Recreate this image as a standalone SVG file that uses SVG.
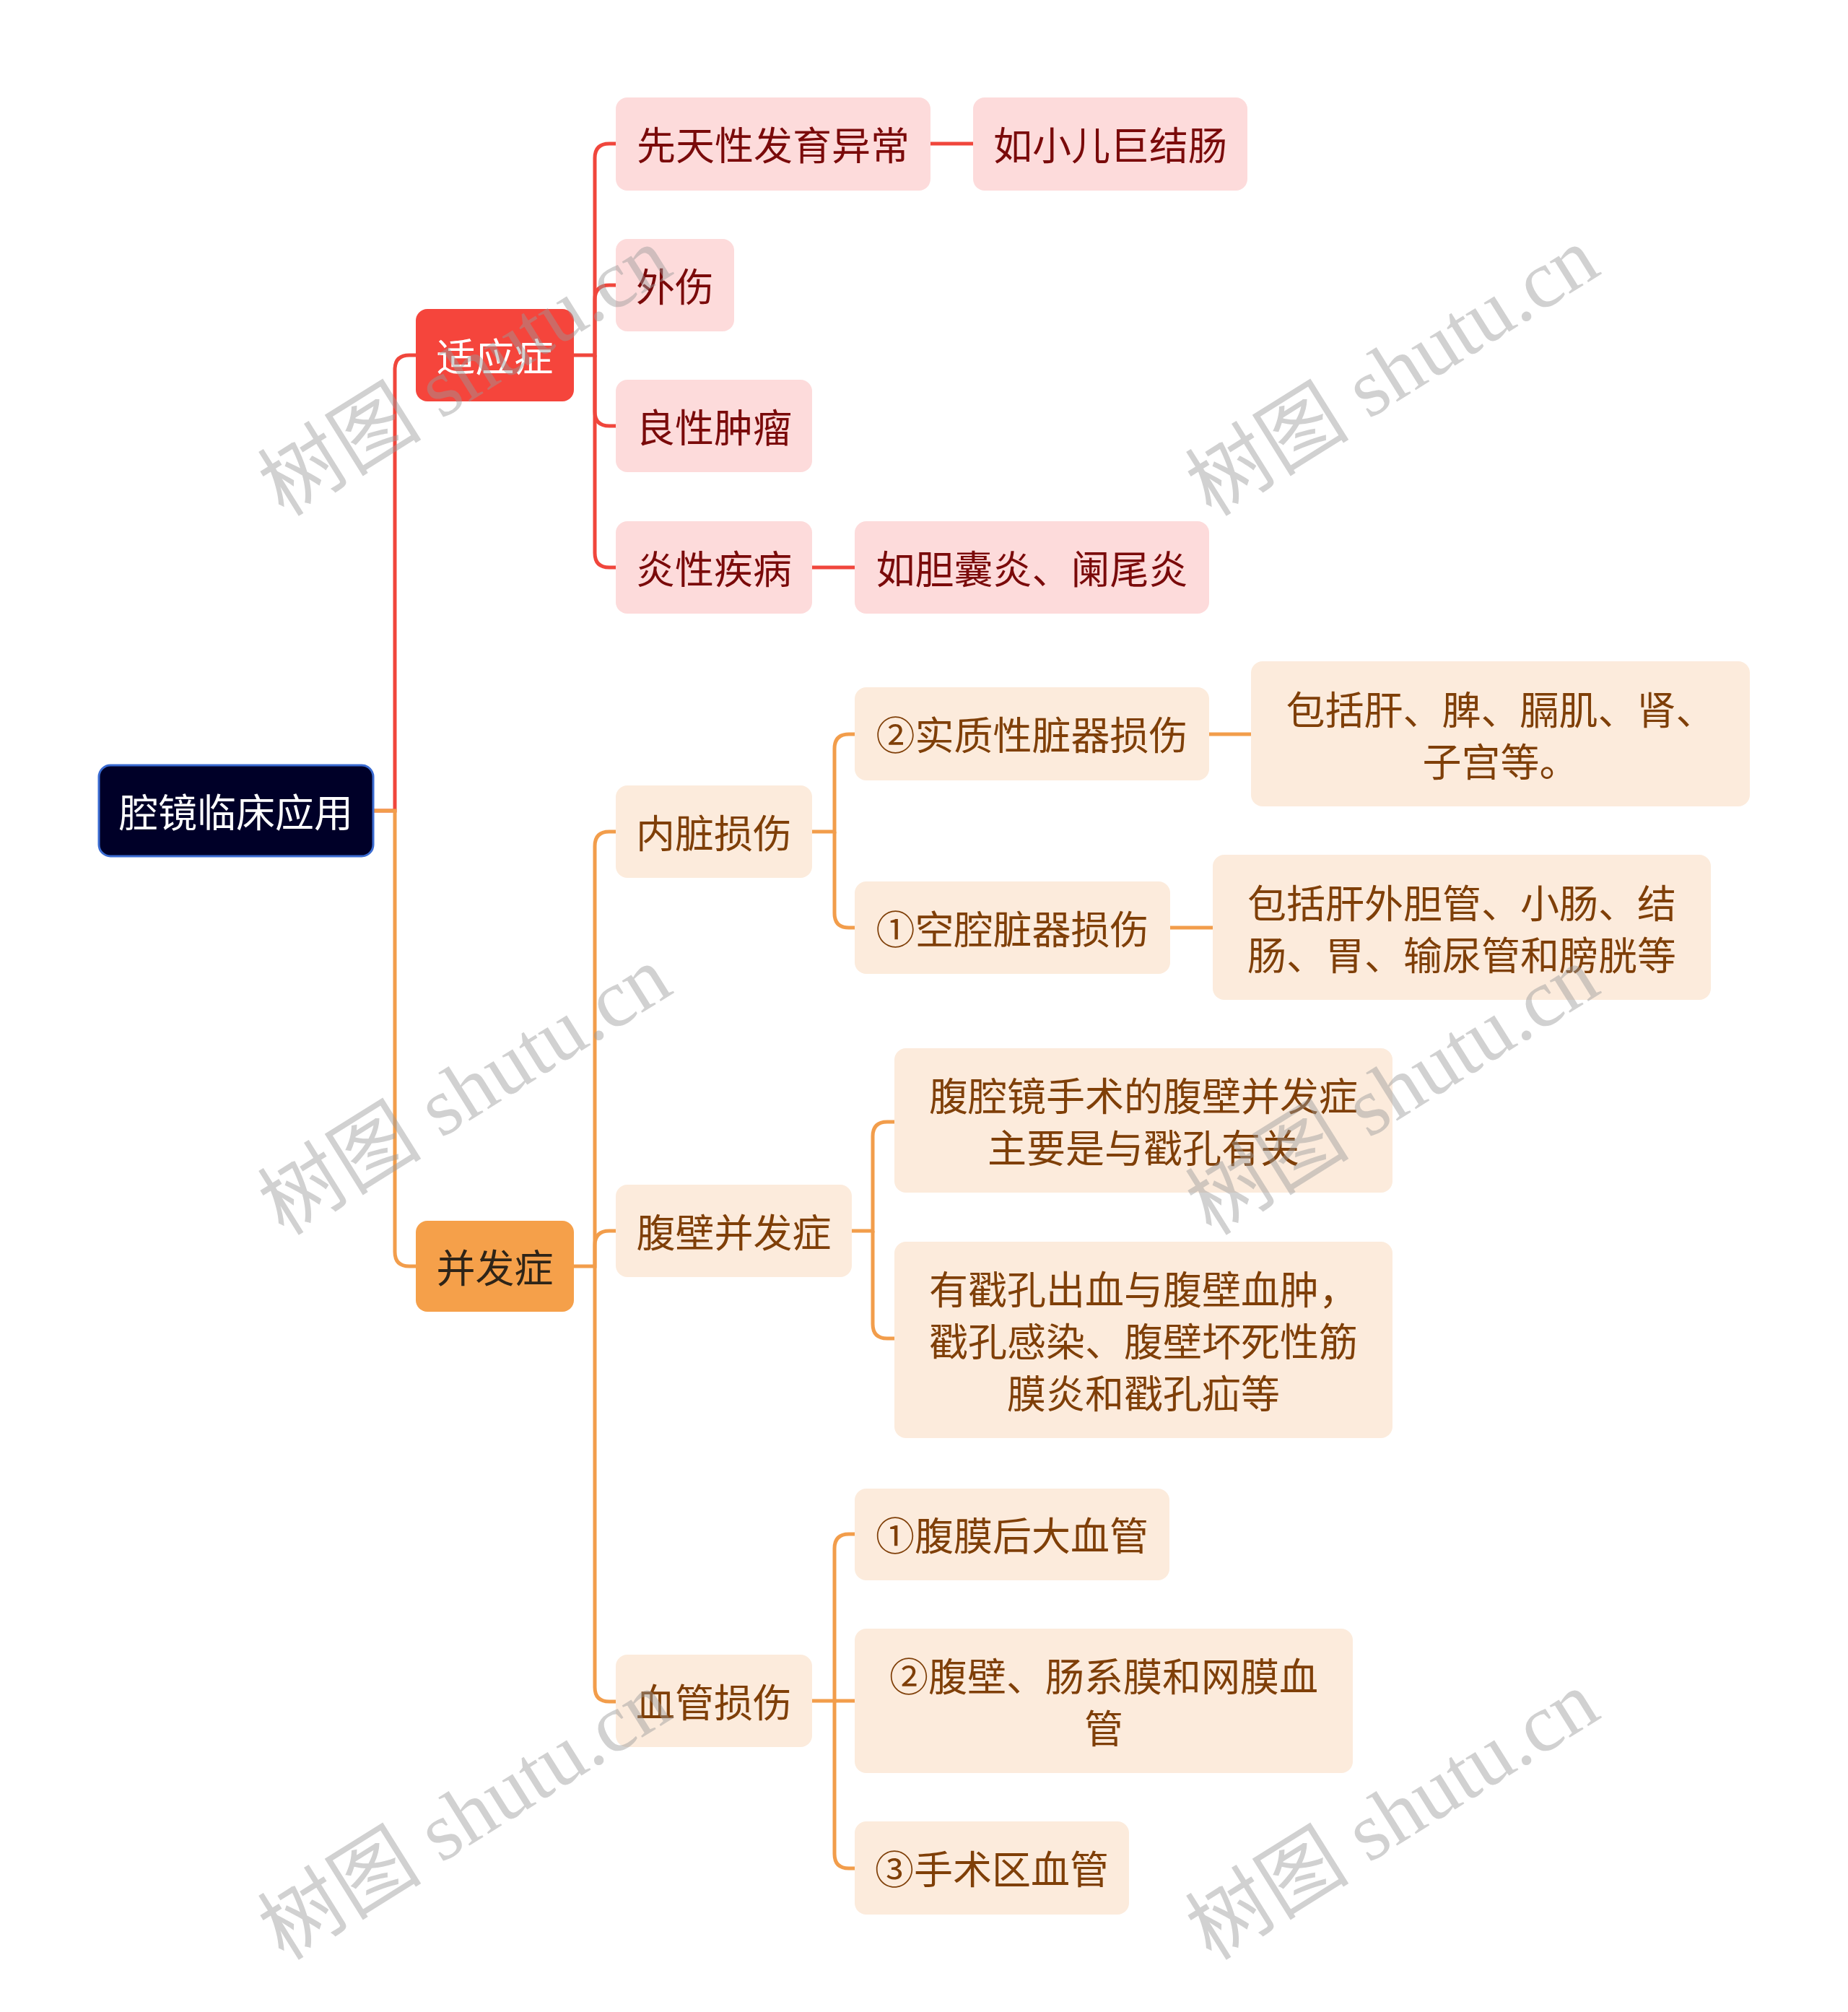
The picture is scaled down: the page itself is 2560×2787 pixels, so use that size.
<svg xmlns="http://www.w3.org/2000/svg" width="2560" height="2787" viewBox="0 0 2560 2787">
<style>
.root rect{fill:#000028;stroke:#3A6BD1;stroke-width:3}
.syz rect{fill:#F5453C}
.bfz rect{fill:#F5A04A}
.pk rect{fill:#FDDBDB}
.og rect{fill:#FCEBDC}
text{font-family:"Noto Sans CJK SC","Noto Sans",sans-serif;font-size:54px;text-anchor:middle;dominant-baseline:central}
.root text,.syz text{fill:#FFFFFF}
.bfz text{fill:#2E2418}
.pk text{fill:#7A0A0A}
.og text{fill:#7F3F08}
.red path{fill:none;stroke:#F0463C;stroke-width:5}
.ora path{fill:none;stroke:#F29D4B;stroke-width:5}
.wm text{font-family:"Liberation Serif","Noto Sans CJK SC",serif;font-size:114px;fill:#9a9a9a;opacity:0.45}
</style>
<rect width="2560" height="2787" fill="#FFFFFF"/>
<g id="connectors">
<g class="red">
<path d="M517,1123 H547 V512 Q547,492 567,492 H576"/>
<path d="M795,492 H824 V219 Q824,199 844,199 H853"/>
<path d="M824,492 V415 Q824,395 844,395 H853"/>
<path d="M824,492 V570 Q824,590 844,590 H853"/>
<path d="M824,492 V766 Q824,786 844,786 H853"/>
<path d="M1289,199 H1348"/>
<path d="M1125,786 H1184"/>
</g>
<g class="ora">
<path d="M517,1123 H547 V1734 Q547,1754 567,1754 H576"/>
<path d="M795,1754 H824 V1172 Q824,1152 844,1152 H853"/>
<path d="M824,1754 V1725 Q824,1705 844,1705 H853"/>
<path d="M824,1754 V2337 Q824,2357 844,2357 H853"/>
<path d="M1125,1152 H1156 V1037 Q1156,1017 1176,1017 H1184"/>
<path d="M1156,1152 V1265 Q1156,1285 1176,1285 H1184"/>
<path d="M1675,1017 H1733"/>
<path d="M1621,1285 H1680"/>
<path d="M1180,1705 H1209 V1574 Q1209,1554 1229,1554 H1239"/>
<path d="M1209,1705 V1834 Q1209,1854 1229,1854 H1239"/>
<path d="M1125,2356 H1156 V2145 Q1156,2125 1176,2125 H1184"/>
<path d="M1156,2356 H1184"/>
<path d="M1156,2356 V2568 Q1156,2588 1176,2588 H1184"/>
</g>
</g>
<g id="n-root" class="root"><rect x="137" y="1060" width="380" height="126" rx="16"/><text x="327" y="1122">腔镜临床应用</text></g>
<g id="n-syz" class="syz"><rect x="576" y="428" width="219" height="128" rx="16"/><text x="685.5" y="491">适应症</text></g>
<g id="n-bfz" class="bfz"><rect x="576" y="1691" width="219" height="126" rx="16"/><text x="685.5" y="1753">并发症</text></g>
<g id="n-xtx" class="pk"><rect x="853" y="135" width="436" height="129" rx="16"/><text x="1071" y="198.5">先天性发育异常</text></g>
<g id="n-rxe" class="pk"><rect x="1348" y="135" width="380" height="129" rx="16"/><text x="1538" y="198.5">如小儿巨结肠</text></g>
<g id="n-ws" class="pk"><rect x="853" y="331" width="164" height="128" rx="16"/><text x="935" y="394">外伤</text></g>
<g id="n-lx" class="pk"><rect x="853" y="526" width="272" height="128" rx="16"/><text x="989" y="589">良性肿瘤</text></g>
<g id="n-yx" class="pk"><rect x="853" y="722" width="272" height="128" rx="16"/><text x="989" y="785">炎性疾病</text></g>
<g id="n-rdn" class="pk"><rect x="1184" y="722" width="491" height="128" rx="16"/><text x="1429.5" y="785">如胆囊炎、阑尾炎</text></g>
<g id="n-nz" class="og"><rect x="853" y="1088" width="272" height="128" rx="16"/><text x="989" y="1151">内脏损伤</text></g>
<g id="n-fb" class="og"><rect x="853" y="1641" width="327" height="128" rx="16"/><text x="1016.5" y="1704">腹壁并发症</text></g>
<g id="n-xg" class="og"><rect x="853" y="2292" width="272" height="128" rx="16"/><text x="989" y="2355">血管损伤</text></g>
<g id="n-szx" class="og"><rect x="1184" y="952" width="491" height="129" rx="16"/><text x="1429.5" y="1015.5">②实质性脏器损伤</text></g>
<g id="n-bkg1" class="og"><rect x="1733" y="916" width="691" height="201" rx="16"/><text><tspan x="2078.5" y="980">包括肝、脾、膈肌、肾、</tspan><tspan x="2078.5" y="1052">子宫等。</tspan></text></g>
<g id="n-kq" class="og"><rect x="1184" y="1221" width="437" height="128" rx="16"/><text x="1402.5" y="1284">①空腔脏器损伤</text></g>
<g id="n-bkg2" class="og"><rect x="1680" y="1184" width="690" height="201" rx="16"/><text><tspan x="2025" y="1248">包括肝外胆管、小肠、结</tspan><tspan x="2025" y="1320">肠、胃、输尿管和膀胱等</tspan></text></g>
<g id="n-fqj" class="og"><rect x="1239" y="1452" width="690" height="200" rx="16"/><text><tspan x="1584" y="1515">腹腔镜手术的腹壁并发症</tspan><tspan x="1584" y="1587">主要是与戳孔有关</tspan></text></g>
<g id="n-ykc" class="og"><rect x="1239" y="1720" width="690" height="272" rx="16"/><text><tspan x="1584" y="1783">有戳孔出血与腹壁血肿，</tspan><tspan x="1584" y="1855">戳孔感染、腹壁坏死性筋</tspan><tspan x="1584" y="1927">膜炎和戳孔疝等</tspan></text></g>
<g id="n-fmh" class="og"><rect x="1184" y="2062" width="436" height="127" rx="16"/><text x="1402" y="2124.5">①腹膜后大血管</text></g>
<g id="n-fbc" class="og"><rect x="1184" y="2256" width="690" height="200" rx="16"/><text><tspan x="1529" y="2319">②腹壁、肠系膜和网膜血</tspan><tspan x="1529" y="2391">管</tspan></text></g>
<g id="n-ssq" class="og"><rect x="1184" y="2523" width="380" height="129" rx="16"/><text x="1374" y="2586.5">③手术区血管</text></g>
<g class="wm">
<text transform="translate(644,515) rotate(-32)">树图 shutu.cn</text>
<text transform="translate(1929,515) rotate(-32)">树图 shutu.cn</text>
<text transform="translate(644,1511) rotate(-32)">树图 shutu.cn</text>
<text transform="translate(1929,1511) rotate(-32)">树图 shutu.cn</text>
<text transform="translate(644,2515) rotate(-32)">树图 shutu.cn</text>
<text transform="translate(1929,2515) rotate(-32)">树图 shutu.cn</text>
</g>
</svg>
